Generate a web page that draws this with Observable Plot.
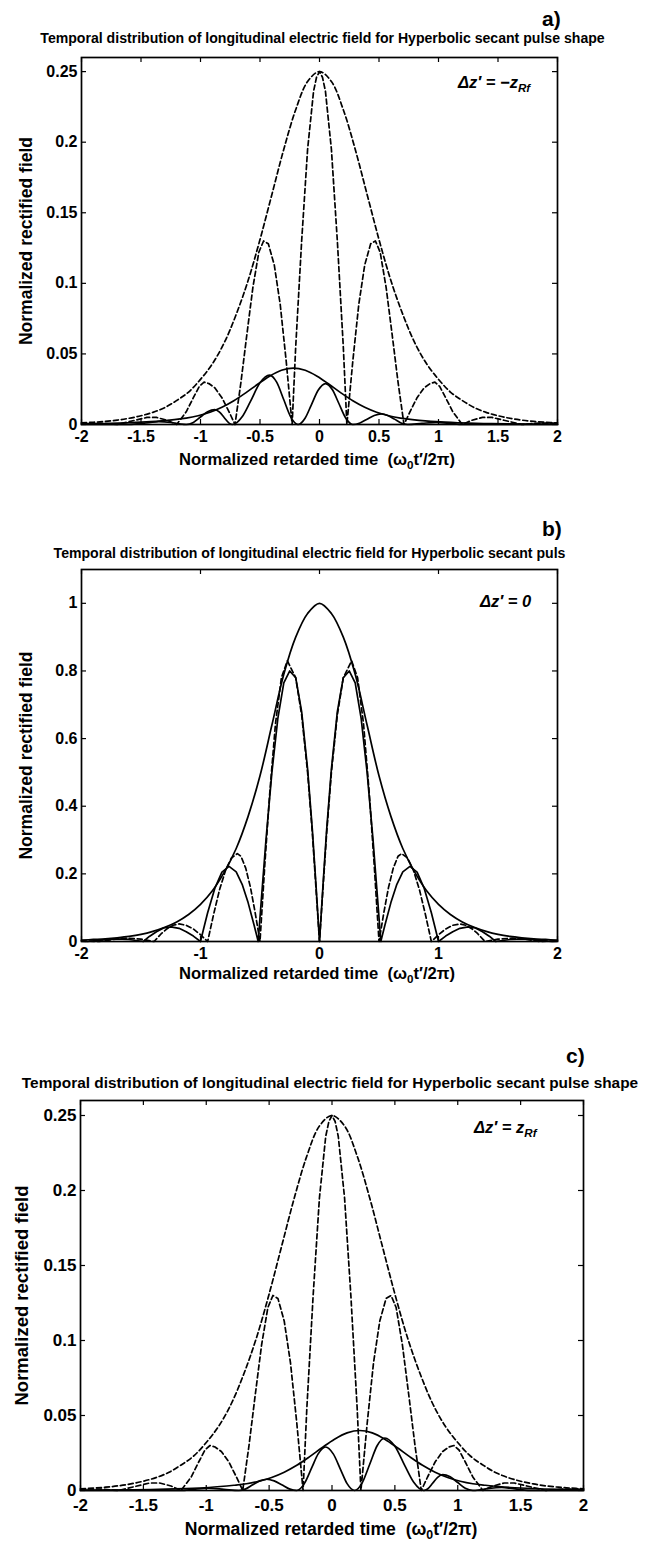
<!DOCTYPE html>
<html><head><meta charset="utf-8">
<script src="https://cdn.jsdelivr.net/npm/d3@7"></script>
<script src="https://cdn.jsdelivr.net/npm/@observablehq/plot@0.6"></script>
<style>
body{margin:0;background:#fff;}
#root{position:relative;width:651px;height:1541px;font-family:"Liberation Sans",Arial,sans-serif;font-weight:bold;color:#000;background:#fff;overflow:hidden;}
.abs{position:absolute;white-space:nowrap;line-height:1;}
.ttl{text-align:center;}
.ann{font-style:italic;}
.ann sub,.xt sub{font-size:70%;vertical-align:-0.35em;line-height:0;}
</style></head><body><div id="root"></div>
<script>
// ---------- tick values ----------
const abXTicks = [-2, -1.5, -1, -0.5, 0, 0.5, 1, 1.5, 2];
const acYTicks = [0, 0.05, 0.1, 0.15, 0.2, 0.25];
const bXTicks = [-2, -1, 0, 1, 2];
const bYTicks = [0, 0.2, 0.4, 0.6, 0.8, 1];

// ---------- texts ----------
const titleFull = "Temporal distribution of longitudinal electric field for Hyperbolic secant pulse shape";
const titleCut = "Temporal distribution of longitudinal electric field for Hyperbolic secant puls";
const yLabel = "Normalized rectified field";
const panelLetters = ["a)", "b)", "c)"];

// ---------- panels a & c : dashed curves (same in both) ----------
const dashedEnvelope = [[-2,.0011],[-1.9,.0016],[-1.8,.0022],[-1.7,.0031],[-1.6,.0044],[-1.5,.0062],[-1.4,.0086],[-1.3,.012],[-1.2,.017],[-1.1,.023],[-1,.032],[-0.9,.043],[-0.8,.058],[-0.7,.078],[-0.6,.102],[-0.5,.131],[-0.4,.163],[-0.3,.195],[-0.2,.223],[-0.1,.243],[0,.25],[0.1,.243],[0.2,.223],[0.3,.195],[0.4,.163],[0.5,.131],[0.6,.102],[0.7,.078],[0.8,.058],[0.9,.043],[1,.032],[1.1,.023],[1.2,.017],[1.3,.012],[1.4,.0086],[1.5,.0062],[1.6,.0044],[1.7,.0031],[1.8,.0022],[1.9,.0016],[2,.0011]];
const dashedOscillation = [[-2,.001],[-1.85,.001],[-1.7,0],[-1.65,.001],[-1.55,.003],[-1.45,.005],[-1.37,.005],[-1.28,.003],[-1.2,0],[-1.12,.009],[-1.06,.019],[-1.01,.027],[-0.97,.03],[-0.93,.029],[-0.88,.026],[-0.82,.019],[-0.76,.009],[-0.71,0],[-0.66,.03],[-0.61,.064],[-0.56,.097],[-0.51,.122],[-0.47,.13],[-0.43,.128],[-0.38,.113],[-0.33,.085],[-0.28,.045],[-0.23,0],[-0.2,.055],[-0.15,.13],[-0.1,.195],[-0.05,.236],[-0.025,.246],[0,.25],[0.025,.246],[0.05,.236],[0.1,.195],[0.15,.13],[0.2,.055],[0.23,0],[0.28,.045],[0.33,.085],[0.38,.113],[0.43,.128],[0.47,.13],[0.51,.122],[0.56,.097],[0.61,.064],[0.66,.03],[0.71,0],[0.76,.009],[0.82,.019],[0.88,.026],[0.93,.029],[0.97,.03],[1.01,.027],[1.06,.019],[1.12,.009],[1.2,0],[1.28,.003],[1.37,.005],[1.45,.005],[1.55,.003],[1.65,.001],[1.7,0],[1.85,.001],[2,.001]];

// ---------- panel a : solid curves ----------
const aSolidEnvelope = [[-2,.0004],[-1.82,.0007],[-1.62,.0012],[-1.42,.002],[-1.22,.0035],[-1.12,.0045],[-1.02,.0062],[-0.92,.0087],[-0.82,.0122],[-0.72,.0168],[-0.62,.0224],[-0.52,.0285],[-0.42,.0342],[-0.32,.0384],[-0.22,.04],[-0.12,.0384],[-0.02,.0342],[0.08,.0285],[0.18,.0224],[0.28,.0168],[0.38,.0122],[0.48,.0087],[0.58,.0062],[0.68,.0045],[0.78,.0035],[0.98,.002],[1.18,.0012],[1.38,.0007],[1.58,.0004],[2,.0002]];
const aSolidOscillation = [[-2,0],[-1.6,0],[-1.5,.0006],[-1.42,.0015],[-1.35,.002],[-1.25,.0014],[-1.18,.0005],[-1.12,0],[-1.06,.0015],[-1,.0053],[-0.94,.0091],[-0.88,.0106],[-0.84,.0088],[-0.8,.0048],[-0.76,.001],[-0.73,0],[-0.65,.0055],[-0.58,.0164],[-0.5,.0295],[-0.42,.035],[-0.36,.03],[-0.3,.0175],[-0.24,.0051],[-0.18,0],[-0.12,.0046],[-0.07,.0136],[-0.01,.0244],[0.05,.029],[0.11,.0244],[0.16,.0154],[0.22,.0046],[0.28,0],[0.34,.0011],[0.4,.0038],[0.46,.0064],[0.52,.0075],[0.575,.0064],[0.63,.0038],[0.685,.0011],[0.74,0],[0.86,.0008],[0.98,.0015],[1.1,.0008],[1.2,0],[2,0]];

// ---------- panel c : solid curves ----------
const cSolidEnvelope = [[-2,.0002],[-1.58,.0004],[-1.38,.0007],[-1.18,.0012],[-0.98,.002],[-0.78,.0035],[-0.68,.0045],[-0.58,.0062],[-0.48,.0087],[-0.38,.0122],[-0.28,.0168],[-0.18,.0224],[-0.08,.0285],[0.02,.0342],[0.12,.0384],[0.22,.04],[0.32,.0384],[0.42,.0342],[0.52,.0285],[0.62,.0224],[0.72,.0168],[0.82,.0122],[0.92,.0087],[1.02,.0062],[1.12,.0045],[1.22,.0035],[1.42,.002],[1.62,.0012],[1.82,.0007],[2,.0004]];
const cSolidOscillation = [[-2,0],[-1.2,0],[-1.1,.0008],[-0.98,.0015],[-0.86,.0008],[-0.74,0],[-0.685,.0011],[-0.63,.0038],[-0.575,.0064],[-0.52,.0075],[-0.46,.0064],[-0.4,.0038],[-0.34,.0011],[-0.28,0],[-0.22,.0046],[-0.16,.0154],[-0.11,.0244],[-0.05,.029],[0.01,.0244],[0.07,.0136],[0.12,.0046],[0.18,0],[0.24,.0051],[0.3,.0175],[0.36,.03],[0.42,.035],[0.5,.0295],[0.58,.0164],[0.65,.0055],[0.73,0],[0.76,.001],[0.8,.0048],[0.84,.0088],[0.88,.0106],[0.94,.0091],[1,.0053],[1.06,.0015],[1.12,0],[1.18,.0005],[1.25,.0014],[1.35,.002],[1.42,.0015],[1.5,.0006],[1.6,0],[2,0]];

// ---------- panel b ----------
const bEnvelope = [[-2,.004],[-1.9,.006],[-1.8,.008],[-1.7,.011],[-1.6,.015],[-1.5,.021],[-1.4,.03],[-1.3,.042],[-1.2,.058],[-1.1,.08],[-1,.11],[-0.9,.15],[-0.8,.205],[-0.7,.275],[-0.6,.37],[-0.5,.49],[-0.4,.64],[-0.3,.79],[-0.2,.9],[-0.1,.97],[0,1],[0.1,.97],[0.2,.9],[0.3,.79],[0.4,.64],[0.5,.49],[0.6,.37],[0.7,.275],[0.8,.205],[0.9,.15],[1,.11],[1.1,.08],[1.2,.058],[1.3,.042],[1.4,.03],[1.5,.021],[1.6,.015],[1.7,.011],[1.8,.008],[1.9,.006],[2,.004]];
const bSolidOscillation = [[-2,.001],[-1.95,0],[-1.84,.004],[-1.72,.008],[-1.6,.006],[-1.48,0],[-1.43,.015],[-1.37,.029],[-1.31,.04],[-1.25,.043],[-1.18,.039],[-1.12,.029],[-1.06,.016],[-1,0],[-0.97,.043],[-0.94,.085],[-0.88,.157],[-0.82,.205],[-0.76,.222],[-0.7,.206],[-0.65,.169],[-0.6,.115],[-0.55,.049],[-0.515,0],[-0.49,.118],[-0.45,.3],[-0.4,.5],[-0.35,.66],[-0.3,.765],[-0.25,.8],[-0.2,.78],[-0.15,.68],[-0.1,.51],[-0.06,.33],[-0.03,.17],[0,0],[0.03,.17],[0.06,.33],[0.1,.51],[0.15,.68],[0.2,.78],[0.25,.8],[0.3,.765],[0.35,.66],[0.4,.5],[0.45,.3],[0.49,.118],[0.515,0],[0.55,.049],[0.6,.115],[0.65,.169],[0.7,.206],[0.76,.222],[0.82,.205],[0.88,.157],[0.94,.085],[0.97,.043],[1,0],[1.06,.016],[1.12,.029],[1.18,.039],[1.25,.043],[1.31,.04],[1.37,.029],[1.43,.015],[1.48,0],[1.6,.006],[1.72,.008],[1.84,.004],[1.95,0],[2,.001]];
const bDashedOscillation = [[-2,.002],[-1.85,0],[-1.74,.006],[-1.62,.01],[-1.5,.007],[-1.39,0],[-1.33,.023],[-1.28,.038],[-1.23,.048],[-1.18,.052],[-1.12,.048],[-1.06,.037],[-1,.02],[-0.94,0],[-0.89,.08],[-0.84,.153],[-0.79,.21],[-0.74,.247],[-0.69,.26],[-0.66,.252],[-0.62,.217],[-0.58,.16],[-0.54,.084],[-0.5,0],[-0.46,.225],[-0.42,.43],[-0.37,.644],[-0.32,.78],[-0.27,.83],[-0.2,.78],[-0.15,.67],[-0.1,.5],[-0.06,.32],[-0.03,.16],[0,0],[0.03,.16],[0.06,.32],[0.1,.5],[0.15,.67],[0.2,.78],[0.27,.83],[0.32,.78],[0.37,.644],[0.42,.43],[0.46,.225],[0.5,0],[0.54,.084],[0.58,.16],[0.62,.217],[0.66,.252],[0.69,.26],[0.74,.247],[0.79,.21],[0.84,.153],[0.89,.08],[0.94,0],[1,.02],[1.06,.037],[1.12,.048],[1.18,.052],[1.23,.048],[1.28,.038],[1.33,.023],[1.39,0],[1.5,.007],[1.62,.01],[1.74,.006],[1.85,0],[2,.002]];

const root = document.getElementById("root");
const FONT = "Liberation Sans, Arial, Helvetica, sans-serif";
const DASH = "5,3";

function addPanel(o) {
  const fh = o.height - o.mt - o.mb;
  const fw = 651 - o.ml - o.mr;
  const ln = (data, dashed, curve) => Plot.line(data, {x: d => d[0], y: d => d[1], stroke: "black", strokeWidth: 1.7, strokeDasharray: dashed ? DASH : null, curve});
  const svg = Plot.plot({
    width: 651, height: o.height,
    marginTop: o.mt, marginBottom: o.mb, marginLeft: o.ml, marginRight: o.mr,
    x: {domain: [-2, 2]},
    y: {domain: o.yDomain},
    style: {fontFamily: FONT, fontSize: o.fs + "px", fontWeight: "bold", color: "black", background: "transparent", overflow: "visible"},
    marks: [
      ...o.curves.map(c => ln(c.data, c.dashed, c.curve)),
      Plot.tickX(o.xTicks, {x: d => d, insetTop: fh - 5, stroke: "black", strokeWidth: 1.2}),
      Plot.tickX(o.xTicks, {x: d => d, insetBottom: fh - 5, stroke: "black", strokeWidth: 1.2}),
      Plot.tickY(o.yTicks, {y: d => d, insetRight: fw - 5, stroke: "black", strokeWidth: 1.2}),
      Plot.tickY(o.yTicks, {y: d => d, insetLeft: fw - 5, stroke: "black", strokeWidth: 1.2}),
      Plot.axisX(o.xTicks, {tickSize: 0, tickPadding: o.xPad, tickFormat: d => String(d), label: null, fill: "black"}),
      Plot.axisY(o.yTicks, {tickSize: 0, tickPadding: 4, tickFormat: d => String(d), label: null, fill: "black"}),
      Plot.text([yLabel], {frameAnchor: "left", textAnchor: "middle", rotate: -90, dx: o.ylDx, text: d => d, fontSize: o.yls, fontWeight: "bold", fill: "black"}),
      Plot.frame({stroke: "black", strokeWidth: 1.7})
    ]
  });
  svg.style.position = "absolute";
  svg.style.left = "0px";
  svg.style.top = o.top + "px";
  root.appendChild(svg);
}

function addText(html, cls, left, top, size, extra) {
  const d = document.createElement("div");
  d.className = "abs " + cls;
  d.innerHTML = html;
  d.style.left = left + "px";
  d.style.top = top + "px";
  d.style.fontSize = size + "px";
  if (extra) Object.assign(d.style, extra);
  root.appendChild(d);
}

// panel a
addPanel({top: 45, height: 430, mt: 12, mb: 51, ml: 81, mr: 94, yDomain: [0, 0.26], xTicks: abXTicks, yTicks: acYTicks, fs: 16, yls: 17.5, ylDx: -55, xPad: 6,
  curves: [
    {data: dashedEnvelope, dashed: true, curve: "catmull-rom"},
    {data: dashedOscillation, dashed: true, curve: "linear"},
    {data: aSolidEnvelope, dashed: false, curve: "catmull-rom"},
    {data: aSolidOscillation, dashed: false, curve: "monotone-x"}
  ]});
// panel b
addPanel({top: 557, height: 426, mt: 12, mb: 42, ml: 81, mr: 94, yDomain: [0, 1.1], xTicks: bXTicks, yTicks: bYTicks, fs: 16, yls: 17.5, ylDx: -55, xPad: 6,
  curves: [
    {data: bDashedOscillation, dashed: true, curve: "linear"},
    {data: bEnvelope, dashed: false, curve: "catmull-rom"},
    {data: bSolidOscillation, dashed: false, curve: "linear"}
  ]});
// panel c
addPanel({top: 1088, height: 450, mt: 12, mb: 48, ml: 80, mr: 68, yDomain: [0, 0.26], xTicks: abXTicks, yTicks: acYTicks, fs: 17, yls: 18.5, ylDx: -58, xPad: 8,
  curves: [
    {data: dashedEnvelope, dashed: true, curve: "catmull-rom"},
    {data: dashedOscillation, dashed: true, curve: "linear"},
    {data: cSolidEnvelope, dashed: false, curve: "catmull-rom"},
    {data: cSolidOscillation, dashed: false, curve: "monotone-x"}
  ]});

// panel letters
addText(panelLetters[0], "", 542, 8, 21);
addText(panelLetters[1], "", 542, 518, 21);
addText(panelLetters[2], "", 566, 1045, 21);
// titles
addText(titleFull, "ttl", 0, 31, 14.1, {width: "645px"});
addText(titleCut, "ttl", 0, 546, 14.1, {width: "619px"});
addText(titleFull, "ttl", 0, 1075, 15.4, {width: "660px"});
// x axis titles
const xTitle = "Normalized retarded time&nbsp; (ω<sub>0</sub>t′/2π)";
addText(xTitle, "xt ttl", 0, 452, 16.6, {width: "634px"});
addText(xTitle, "xt ttl", 0, 966, 16.6, {width: "634px"});
addText(xTitle, "xt ttl", 0, 1521, 17.6, {width: "662px"});
// annotations
addText("Δz′ = −z<sub>Rf</sub>", "ann", 458, 74, 16.5);
addText("Δz′ = 0", "ann", 480, 593, 16.5);
addText("Δz′ = z<sub>Rf</sub>", "ann", 474, 1119, 16.5);
</script></body></html>
